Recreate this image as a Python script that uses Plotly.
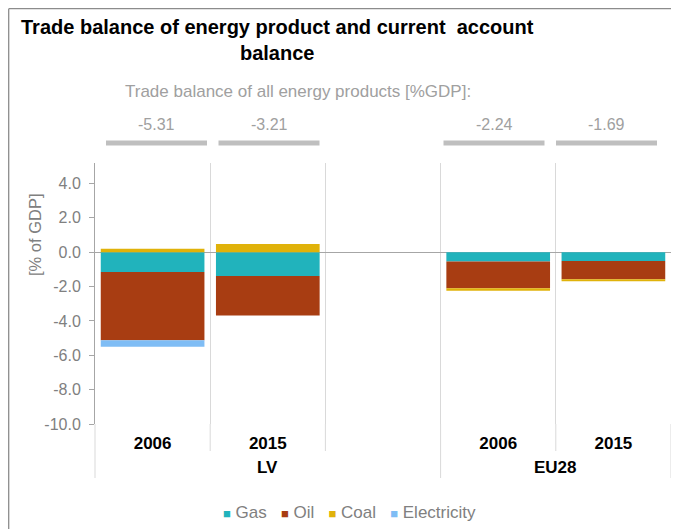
import plotly.graph_objects as go

# ---------------- data ----------------
groups = ["LV", "LV", "LV", "EU28", "EU28"]
years = ["2006", "2015", " ", "2006", "2015"]
gas = [-1.16, -1.38, None, -0.54, -0.52]
oil = [-3.97, -2.31, None, -1.56, -1.05]
coal = [0.20, 0.48, None, -0.14, -0.12]
electricity = [-0.38, 0.0, None, 0.0, 0.0]
totals = ["-5.31", "-3.21", None, "-2.24", "-1.69"]
ytick_vals = [4, 2, 0, -2, -4, -6, -8, -10]
ytick_text = ["4.0", "2.0", "0.0", "-2.0", "-4.0", "-6.0", "-8.0", "-10.0"]

series = [
    ("Gas", gas, "#21b3bc"),
    ("Oil", oil, "#a83d12"),
    ("Coal", coal, "#e0b20a"),
    ("Electricity", electricity, "#7fbdf5"),
]

# unique category keys (group + year); years shown as tick labels
xcats = ["%s|%s" % (g, y) for g, y in zip(groups, years)]

# ---------------- geometry (screen pixels; page has 8px body margin) ----------------
OFF = 8
W, H = 679 - OFF, 529 - OFF
SL, SR, ST, SB = 95, 671, 163, 424          # plot box in screen pixels
L, R, T, B = SL - OFF, W - (SR - OFF), ST - OFF, H - (SB - OFF)
PW = SR - SL
PH = SB - ST
FONT = "Liberation Sans"
NB = "\u00a0"


def px_x(sx):
    return (sx - SL) / PW


def px_y(sy):
    return (SB - sy) / PH


fig = go.Figure()
for name, vals, col in series:
    fig.add_trace(go.Bar(
        x=xcats, y=vals, name=name,
        marker=dict(color=col, line=dict(width=0)),
        width=0.9, showlegend=False,
    ))

n = len(years)
slot = PW / n
annotations = []
shapes = []

# title
annotations.append(dict(
    text="Trade balance of energy product and current" + NB + NB + "account<br>balance",
    xref="paper", yref="paper", x=px_x(277), y=px_y(39.5),
    xanchor="center", yanchor="middle", showarrow=False, align="center",
    font=dict(family=FONT, size=20, color="#000000", weight="bold"),
))
# subtitle
annotations.append(dict(
    text="Trade balance of all energy products [%GDP]:",
    xref="paper", yref="paper", x=px_x(298), y=px_y(91.5),
    xanchor="center", yanchor="middle", showarrow=False,
    font=dict(family=FONT, size=17, color="#a0a0a0"),
))
# y-axis title
annotations.append(dict(
    text="[% of GDP]", textangle=-90,
    xref="paper", yref="paper", x=px_x(35), y=px_y(235),
    xanchor="center", yanchor="middle", showarrow=False,
    font=dict(family=FONT, size=16.5, color="#808080"),
))
# group labels (second axis row), centred on each group's categories
for g in dict.fromkeys(groups):
    idx = [i for i, gg in enumerate(groups) if gg == g]
    annotations.append(dict(
        text=g, xref="x", yref="paper", x=sum(idx) / len(idx), y=px_y(467),
        xanchor="center", yanchor="middle", showarrow=False,
        font=dict(family=FONT, size=17, color="#000000", weight="bold"),
    ))
# totals and grey bars (own grid above the chart)
for i, t in enumerate(totals):
    if t is None:
        continue
    cx = 156.5 + i * 112.5
    annotations.append(dict(
        text=t, xref="paper", yref="paper", x=px_x(cx), y=px_y(124),
        xanchor="center", yanchor="middle", showarrow=False,
        font=dict(family=FONT, size=16, color="#a0a0a0"),
    ))
    shapes.append(dict(
        type="rect", xref="paper", yref="paper",
        x0=px_x(cx - 50.5), x1=px_x(cx + 50.5), y0=px_y(145.5), y1=px_y(140.5),
        fillcolor="#bfbfbf", line=dict(width=0),
    ))

# legend (coloured squares + labels)
leg_parts = []
for name, _, col in series:
    leg_parts.append(
        '<span style="color:%s;font-size:13px">■</span>%s%s' % (col, NB, name))
annotations.append(dict(
    text=(NB * 3).join(leg_parts),
    xref="paper", yref="paper", x=px_x(349), y=px_y(512),
    xanchor="center", yanchor="middle", showarrow=False,
    font=dict(family=FONT, size=17, color="#808080"),
))

# short separators below plot between years (inner)
for i in [1, 2, 4]:
    bx = SL + i * slot
    shapes.append(dict(
        type="line", xref="paper", yref="paper",
        x0=px_x(bx), x1=px_x(bx), y0=px_y(424), y1=px_y(451),
        line=dict(color="#d9d9d9", width=1),
    ))
# long separators (group boundaries)
for i in [0, 3, 5]:
    bx = SL + i * slot
    shapes.append(dict(
        type="line", xref="paper", yref="paper",
        x0=px_x(bx), x1=px_x(bx), y0=px_y(424), y1=px_y(478),
        line=dict(color="#d9d9d9", width=1),
    ))

# outer border: top and left darker, right faint
shapes.append(dict(
    type="line", xref="paper", yref="paper",
    x0=px_x(OFF + 0.7), x1=px_x(679), y0=px_y(OFF + 0.7), y1=px_y(OFF + 0.7),
    line=dict(color="#8c8c8c", width=1.3),
))
shapes.append(dict(
    type="line", xref="paper", yref="paper",
    x0=px_x(OFF + 0.7), x1=px_x(OFF + 0.7), y0=px_y(OFF + 0.7), y1=px_y(560),
    line=dict(color="#8c8c8c", width=1.3),
))
shapes.append(dict(
    type="line", xref="paper", yref="paper",
    x0=px_x(678), x1=px_x(678), y0=px_y(OFF + 0.7), y1=px_y(560),
    line=dict(color="#e3e3e3", width=1),
))

fig.update_layout(
    width=W, height=H,
    margin=dict(l=L, r=R, t=T, b=B, autoexpand=False),
    paper_bgcolor="white", plot_bgcolor="white",
    barmode="relative",
    bargap=0.1,
    font=dict(family=FONT, color="#808080"),
    showlegend=False,
    annotations=annotations,
    shapes=shapes,
)
fig.update_xaxes(
    type="category",
    categoryorder="array", categoryarray=xcats,
    tickvals=xcats, ticktext=years,
    tickson="boundaries",
    showgrid=True, gridcolor="#d9d9d9", gridwidth=1,
    ticks="", ticklabelstandoff=7,
    showline=False, zeroline=False,
    tickfont=dict(family=FONT, size=17, color="#000000", weight="bold"),
)
fig.update_yaxes(
    range=[-10, 5.19],
    tickvals=ytick_vals, ticktext=ytick_text,
    ticks="outside", ticklen=5, tickcolor="#a6a6a6",
    ticklabelstandoff=5,
    showline=True, linecolor="#a6a6a6", linewidth=1,
    showgrid=False,
    zeroline=True, zerolinecolor="#a6a6a6", zerolinewidth=1,
    tickfont=dict(family=FONT, size=16, color="#808080"),
)

fig.write_html("out.html")
